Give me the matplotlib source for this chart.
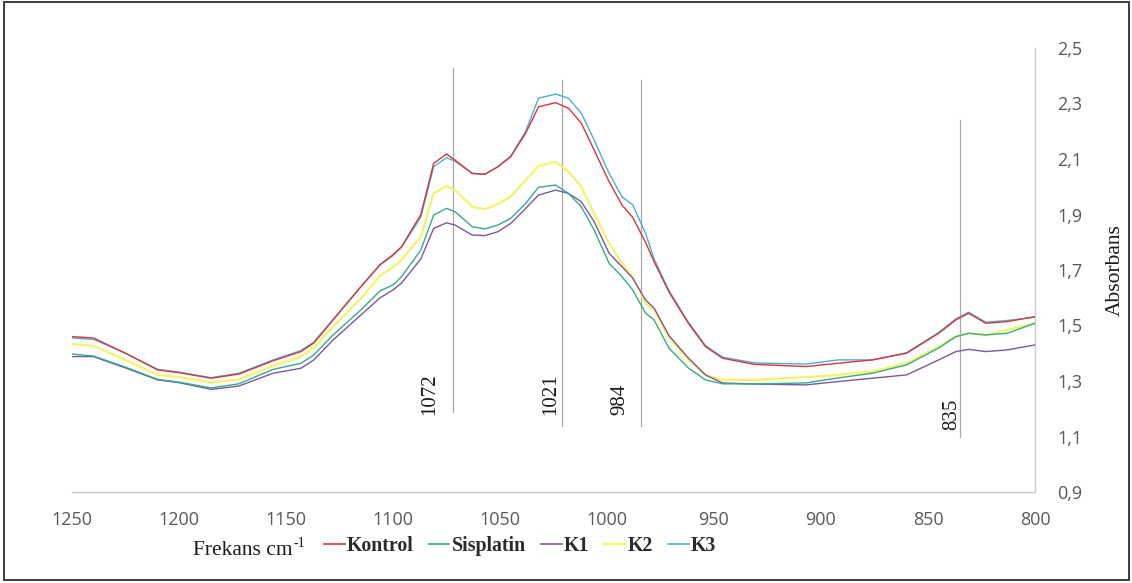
import matplotlib
matplotlib.use("Agg")
import matplotlib.pyplot as plt
from matplotlib.lines import Line2D
from matplotlib.patches import Rectangle
from matplotlib.ticker import FixedLocator, FuncFormatter

# Wavenumbers (cm-1) and absorbance of each group
wavenumber = [1250, 1240, 1225, 1210, 1200, 1185, 1172, 1156, 1143, 1137, 1128, 1115,
              1106, 1100, 1096, 1087, 1081, 1075, 1071, 1063, 1057, 1051, 1045, 1038,
              1032, 1024, 1018, 1012, 1006, 999, 993, 988, 982, 978, 971, 962,
              954, 946, 931, 907, 892, 876, 860, 845, 837, 831, 823, 813, 800]

kontrol = [1.460, 1.455, 1.400, 1.340, 1.330, 1.310, 1.325, 1.373, 1.406, 1.437, 1.520, 1.640,
           1.720, 1.755, 1.784, 1.900, 2.084, 2.118, 2.096, 2.048, 2.045, 2.072, 2.108, 2.193,
           2.288, 2.303, 2.283, 2.229, 2.132, 2.018, 1.934, 1.890, 1.800, 1.730, 1.620, 1.508,
           1.424, 1.382, 1.360, 1.352, 1.364, 1.376, 1.400, 1.472, 1.520, 1.544, 1.508, 1.514, 1.532]

sisplatin = [1.397, 1.390, 1.350, 1.306, 1.296, 1.275, 1.290, 1.342, 1.364, 1.394, 1.466, 1.556,
             1.625, 1.646, 1.676, 1.772, 1.898, 1.922, 1.910, 1.856, 1.848, 1.862, 1.886, 1.940,
             1.998, 2.006, 1.976, 1.928, 1.844, 1.724, 1.676, 1.628, 1.545, 1.520, 1.418, 1.347,
             1.304, 1.290, 1.289, 1.293, 1.311, 1.328, 1.358, 1.419, 1.460, 1.472, 1.466, 1.472, 1.508]

k1 = [1.388, 1.388, 1.347, 1.304, 1.294, 1.270, 1.282, 1.328, 1.346, 1.376, 1.448, 1.538,
      1.600, 1.628, 1.653, 1.740, 1.850, 1.870, 1.862, 1.826, 1.824, 1.838, 1.868, 1.922,
      1.970, 1.988, 1.976, 1.946, 1.874, 1.760, 1.712, 1.671, 1.592, 1.563, 1.463, 1.383,
      1.322, 1.293, 1.289, 1.286, 1.298, 1.310, 1.322, 1.376, 1.406, 1.414, 1.406, 1.412, 1.430]

k2 = [1.433, 1.427, 1.376, 1.322, 1.314, 1.294, 1.306, 1.355, 1.388, 1.419, 1.496, 1.598,
      1.680, 1.710, 1.736, 1.820, 1.976, 2.003, 1.988, 1.928, 1.919, 1.938, 1.964, 2.024,
      2.075, 2.090, 2.054, 2.000, 1.904, 1.796, 1.724, 1.676, 1.580, 1.556, 1.455, 1.376,
      1.322, 1.304, 1.304, 1.314, 1.322, 1.334, 1.365, 1.424, 1.460, 1.472, 1.466, 1.484, 1.508]

k3 = [1.455, 1.450, 1.400, 1.342, 1.332, 1.312, 1.328, 1.376, 1.410, 1.440, 1.522, 1.640,
      1.718, 1.752, 1.782, 1.890, 2.072, 2.105, 2.092, 2.048, 2.045, 2.072, 2.110, 2.200,
      2.319, 2.334, 2.319, 2.265, 2.168, 2.048, 1.964, 1.935, 1.832, 1.740, 1.625, 1.512,
      1.428, 1.386, 1.365, 1.361, 1.376, 1.376, 1.402, 1.475, 1.524, 1.548, 1.512, 1.518, 1.530]

series_names = ["Kontrol", "Sisplatin", "K1", "K2", "K3"]
series_values = [kontrol, sisplatin, k1, k2, k3]
series_colors = ["#DA3539", "#35AB8A", "#7E55A6", "#F6F26A", "#48B1D3"]
series_widths = [1.0, 1.0, 1.0, 1.6, 1.0]

# Marked bands: wavenumber, line extent (absorbance) and label anchor
band_values = [1072, 1021, 984, 835]
band_line_low = [1.188, 1.138, 1.138, 1.098]
band_line_high = [2.428, 2.385, 2.385, 2.240]
band_label_x = [1082.9, 1026.2, 993.8, 839.1]
band_label_y = [1.177, 1.177, 1.177, 1.123]

x_ticks = [1250, 1200, 1150, 1100, 1050, 1000, 950, 900, 850, 800]
y_ticks = [0.9, 1.1, 1.3, 1.5, 1.7, 1.9, 2.1, 2.3, 2.5]

W, H = 1132, 583
fig = plt.figure(figsize=(W / 100, H / 100), dpi=100)
fig.patch.set_facecolor("white")

def fx(px):
    return px / W

def fy(py):
    return 1 - py / H

ax = fig.add_axes([fx(72), fy(492), fx(1035) - fx(72), fy(48) - fy(492)])
ax.set_xlim(1250, 800)
ax.set_ylim(0.9, 2.5)

draw_order = [4, 3, 2, 1, 0]
for i in draw_order:
    ax.plot(wavenumber, series_values[i], color=series_colors[i],
            lw=series_widths[i], solid_joinstyle="round", zorder=3 + (4 - i) * 0.01)

for xv, lo, hi in zip(band_values, band_line_low, band_line_high):
    ax.plot([xv, xv], [lo, hi], color="#A8A8A8", lw=0.9, zorder=2)

for name, lx, ly in zip(band_values, band_label_x, band_label_y):
    ax.text(lx, ly, str(name), rotation=90, ha="center", va="bottom",
            family="Liberation Serif", fontsize=15, color="#1a1a1a", zorder=4)

# Axes styling
for side in ["top", "left"]:
    ax.spines[side].set_visible(False)
for side in ["right", "bottom"]:
    ax.spines[side].set_color("#C9C9C9")
    ax.spines[side].set_linewidth(1.0)

ax.xaxis.set_major_locator(FixedLocator(x_ticks))
ax.yaxis.set_major_locator(FixedLocator(y_ticks))
ax.yaxis.set_major_formatter(FuncFormatter(lambda v, p: f"{v:.1f}".replace(".", ",")))
ax.xaxis.set_major_formatter(FuncFormatter(lambda v, p: f"{int(round(v))}"))
ax.yaxis.tick_right()
ax.tick_params(axis="both", length=0, labelsize=13, labelcolor="#595959")
ax.tick_params(axis="x", pad=14)
ax.tick_params(axis="y", pad=16)
for lab in ax.get_xticklabels() + ax.get_yticklabels():
    lab.set_family("Open Sans")

# Axis titles
fig.text(fx(1115), fy(270), "Absorbans", rotation=90, ha="center", va="center",
         family="Liberation Serif", fontsize=15.5, color="#1a1a1a")

t_main = fig.text(fx(193), fy(555), "Frekans cm", ha="left", va="baseline",
                  family="Liberation Serif", fontsize=15.5, color="#1a1a1a")
renderer = fig.canvas.get_renderer()
bb = t_main.get_window_extent(renderer=renderer)
fig.text(bb.x1 / W + 0.0005, fy(547), "-1", ha="left", va="baseline",
         family="Liberation Serif", fontsize=10, color="#1a1a1a")

# Legend
handles = [Line2D([0], [0], color=c, lw=max(w, 1.2)) for c, w in zip(series_colors, series_widths)]
leg = fig.legend(handles, series_names, loc="center", bbox_to_anchor=(fx(520), fy(546)),
                 ncol=5, frameon=False, handlelength=1.05, handletextpad=0.12,
                 columnspacing=0.75, borderpad=0.0,
                 prop={"family": "Liberation Serif", "weight": "bold", "size": 14.3})
for txt in leg.get_texts():
    txt.set_color("#2b2b2b")

# Outer frame
fig.patches.append(Rectangle((fx(4), fy(580)), fx(1129) - fx(4), fy(2) - fy(580),
                             transform=fig.transFigure, fill=False,
                             edgecolor="#3c3c3c", lw=1.4))

fig.savefig("out.png", dpi=100, facecolor="white")
